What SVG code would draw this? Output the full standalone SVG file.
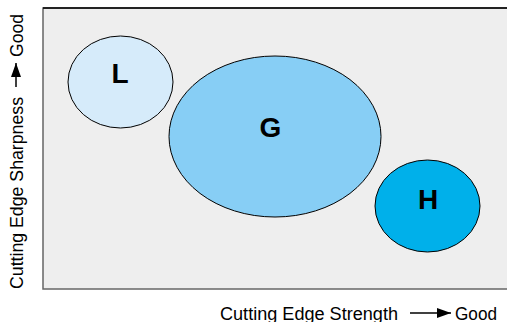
<svg xmlns="http://www.w3.org/2000/svg" width="507" height="322" viewBox="0 0 507 322">
<style>
.node{stroke:#000;stroke-width:1}
.lbl{font-family:"Liberation Sans",Arial,sans-serif;font-weight:bold;font-size:28px;text-anchor:middle;fill:#000}
.axis{font-family:"Liberation Sans",Arial,sans-serif;font-size:18px;fill:#000}
</style>
<defs>
<marker id="ah" markerWidth="14" markerHeight="10" refX="14" refY="5" orient="auto" markerUnits="userSpaceOnUse">
<path d="M0,0 L14,5 L0,10 Z" fill="#000"/>
</marker>
</defs>
<rect x="43" y="8" width="470" height="281" fill="#eeeeee" stroke="#666" stroke-width="1.5"/>
<line x1="43" y1="8" x2="507" y2="8" stroke="#000" stroke-width="1.5"/>
<g id="node-L">
<ellipse class="node" cx="120.5" cy="82" rx="52.5" ry="46" fill="#d6ebfa"/>
<text class="lbl" x="120" y="83">L</text>
</g>
<g id="node-G">
<ellipse class="node" cx="275" cy="136.5" rx="106" ry="80.5" fill="#87cef5"/>
<text class="lbl" x="270.5" y="137">G</text>
</g>
<g id="node-H">
<ellipse class="node" cx="427.5" cy="206" rx="52.5" ry="46" fill="#00b0ea"/>
<text class="lbl" x="428" y="209">H</text>
</g>
<g id="connectors">
<line x1="410" y1="313" x2="451" y2="313" stroke="#000" stroke-width="1.5" marker-end="url(#ah)"/>
<line x1="16" y1="87" x2="16" y2="63" stroke="#000" stroke-width="1.5" marker-end="url(#ah)"/>
</g>
<g id="axis-labels">
<text class="axis" x="220" y="319.5" textLength="178" lengthAdjust="spacingAndGlyphs">Cutting Edge Strength</text>
<text class="axis" x="455" y="319.5" textLength="42" lengthAdjust="spacingAndGlyphs">Good</text>
<g transform="translate(23,289) rotate(-90)">
<text class="axis" x="0" y="0" textLength="192" lengthAdjust="spacingAndGlyphs">Cutting Edge Sharpness</text>
<text class="axis" x="232" y="0" textLength="43" lengthAdjust="spacingAndGlyphs">Good</text>
</g>
</g>
</svg>
